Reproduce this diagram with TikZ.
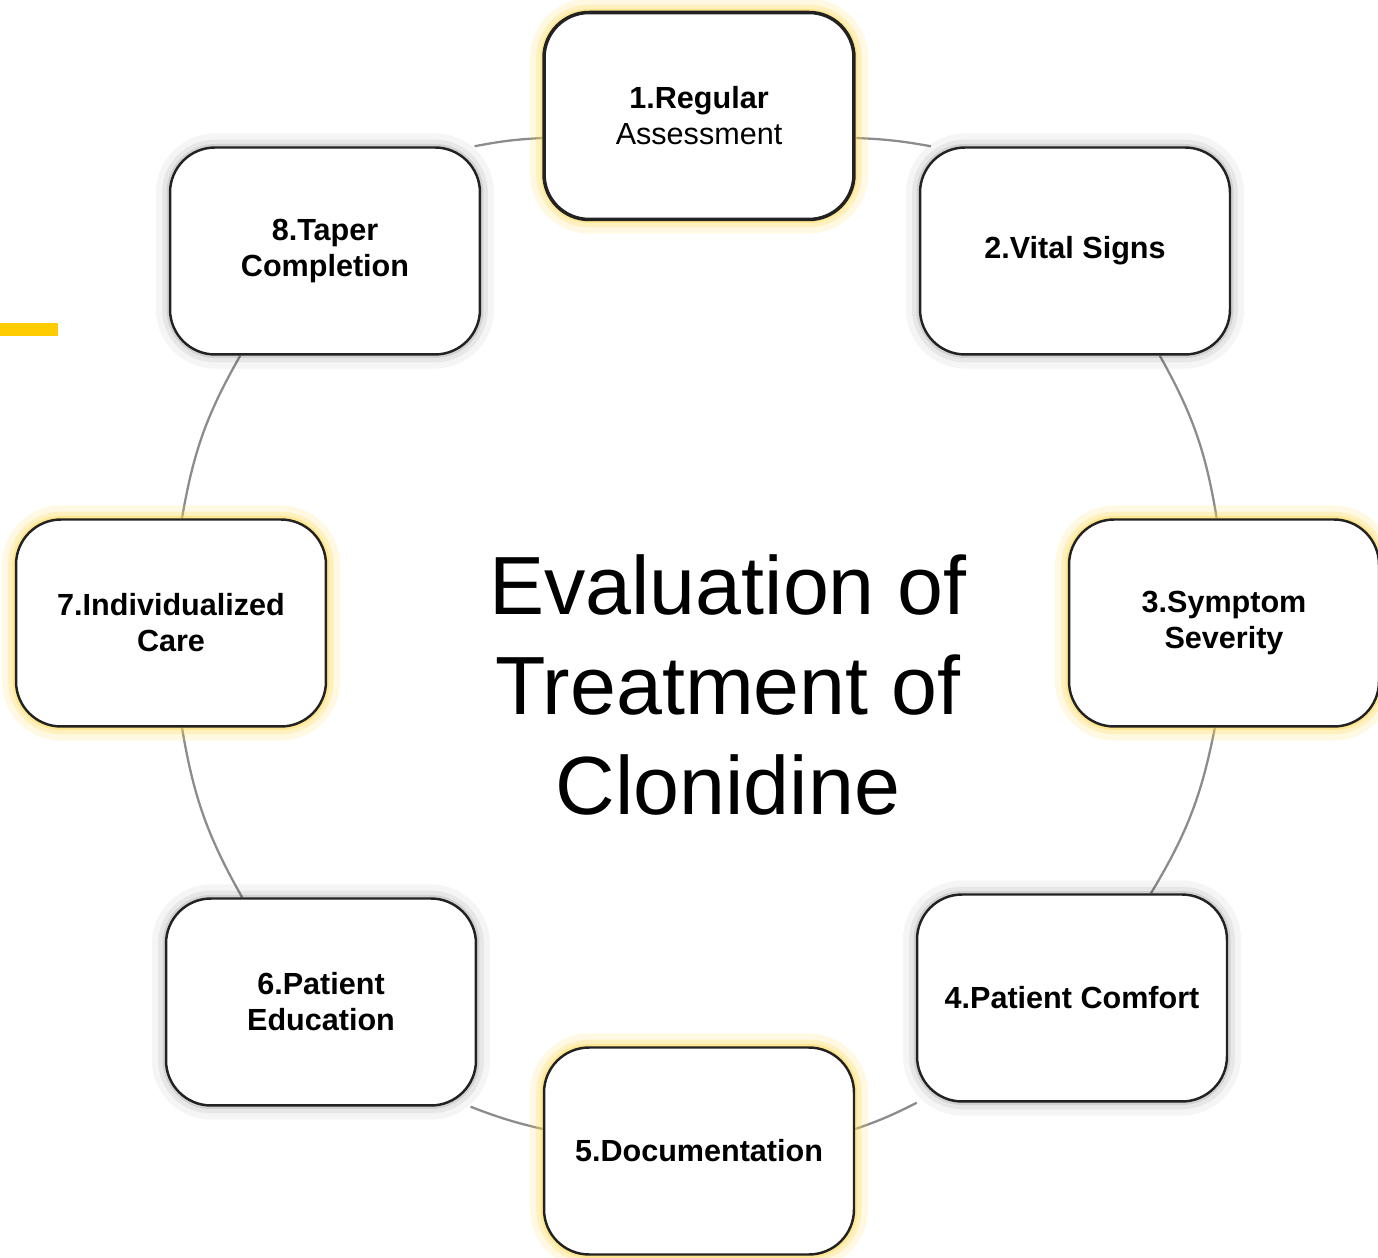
\documentclass[tikz,border=0pt]{standalone}
\usepackage{fontspec}
\setmainfont{Liberation Sans}
\usetikzlibrary{positioning}
\usetikzlibrary{backgrounds}
\definecolor{glowc}{HTML}{FFD84D}
\definecolor{barc}{HTML}{FFCC00}
\definecolor{linkc}{HTML}{8C8C8C}
\definecolor{edgec}{HTML}{222222}
\tikzset{
	box/.style={draw=edgec, rectangle, rounded corners=0.9cm, line width=1.4pt, fill=white, minimum width=6.2cm, minimum height=4.14cm, align=center, font=\fontsize{17.4}{20.5}\selectfont\bfseries},
	% yellow halo round steps 1, 3, 5 and 7
	glowbox/.style={box, preaction={draw=glowc, opacity=0.15, line width=16pt}, preaction={draw=glowc, opacity=0.25, line width=9pt}, preaction={draw=glowc, opacity=0.4, line width=4pt}},
	shadebox/.style={box, preaction={draw=black, opacity=0.04, line width=16pt}, preaction={draw=black, opacity=0.06, line width=9pt}, preaction={draw=black, opacity=0.09, line width=4pt}},
	title/.style={align=center, font=\fontsize{47}{57}\selectfont},
	link/.style={draw=linkc, line width=1.3pt},
}

\begin{document}
\begin{tikzpicture}[x=0.02cm, y=0.02cm]
	\useasboundingbox (0,0) rectangle (1378,1257);
	
	\fill[barc] (0,921) rectangle (58,934);
	
	\node (eval) [title] at (728,572) {Evaluation of\\Treatment of\\Clonidine};
	
	\node (n1) [glowbox, line width=2pt] at (699,1141) {1.Regular\\{\mdseries Assessment}};
	\node (n2) [shadebox] at (1075,1006) {2.Vital Signs};
	\node (n3) [glowbox] at (1224,634) {3.Symptom\\Severity};
	\node (n4) [shadebox] at (1072,259) {4.Patient Comfort};
	\node (n5) [glowbox] at (699,106) {5.Documentation};
	\node (n6) [shadebox] at (321,255) {6.Patient\\Education};
	\node (n7) [glowbox] at (171,634) {7.Individualized\\Care};
	\node (n8) [shadebox] at (325,1006) {8.Taper\\Completion};
	
	% pieces of the ring between the steps
	\begin{scope}[on background layer]
		\draw[link] (n1.-8.4) to[bend left=4] (n2.144.2);
		\draw[link] (n2.-51.6) to[bend left=10] (n3.94.4);
		\draw[link] (n3.265.6) to[bend left=10] (n4.53);
		\draw[link] (n4.214.6) to[bend left=4] (n5.8.4);
		\draw[link] (n5.172.3) to[bend left=4] (n6.-35);
		\draw[link] (n6.127.6) to[bend left=10] (n7.-84.5);
		\draw[link] (n7.84.5) to[bend left=10] (n8.231.7);
		\draw[link] (n8.35.1) to[bend left=4] (n1.188);
	\end{scope}
\end{tikzpicture}
\end{document}
